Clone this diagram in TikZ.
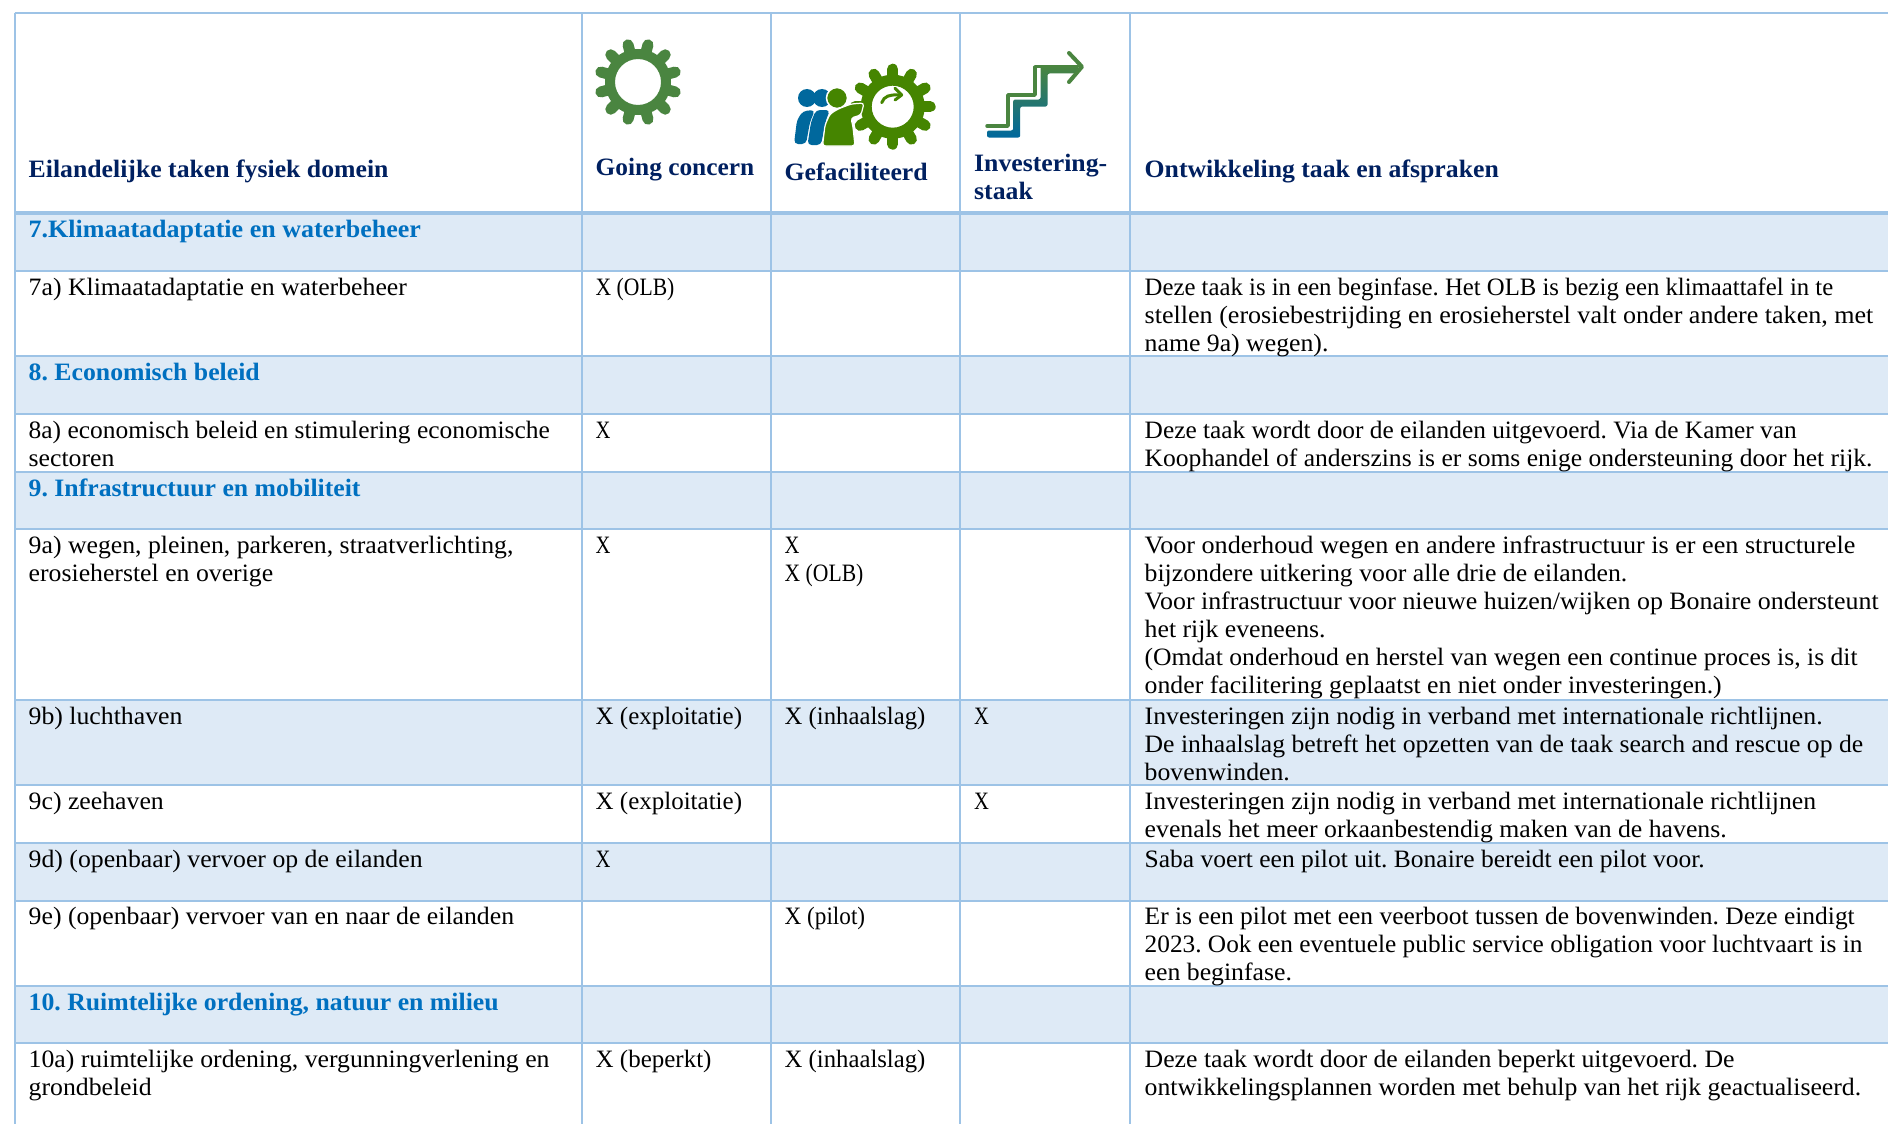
\documentclass[tikz,border=0pt]{standalone}
\usepackage{graphicx}
\usepackage{fontspec}
\setmainfont[FakeStretch=1.03]{Liberation Serif}
\definecolor{gridblue}{HTML}{9DC3E6}
\definecolor{rowshade}{HTML}{DEEAF6}
\definecolor{navy}{HTML}{002060}
\definecolor{sect}{HTML}{0070C0}
\definecolor{gearA}{HTML}{4A8540}
\definecolor{gearB}{HTML}{458500}
\definecolor{pblue}{HTML}{00689D}
\definecolor{teal}{HTML}{2A7A78}
\newcommand{\bodyfont}{\frenchspacing\fontsize{25}{28}\selectfont}
\newcommand{\st}{\rule{0pt}{20pt}}
\newcommand{\sx}[2]{\scalebox{#1}[1]{#2}}
\newcommand{\gearicon}[7]{% x y ringr holer toothr color offset
  \fill[#6,even odd rule] (#1,#2) circle[radius=#3] (#1,#2) circle[radius=#4];
  \foreach \a in {0,30,...,330}{
    \draw[#6,line width=11pt,line cap=round] ({#1+(#3-3)*cos(\a+#7)},{#2+(#3-3)*sin(\a+#7)}) -- ({#1+(#5-4.5)*cos(\a+#7)},{#2+(#5-4.5)*sin(\a+#7)});
  }}
\tikzset{
  x=1pt,y=-1pt,
  gridline/.style={gridblue,line width=2pt},
  cell/.style={anchor=north west,inner sep=0pt,align=left,font=\bodyfont,text=black},
  headcell/.style={cell,font=\bodyfont\bfseries,text=navy},
  sectcell/.style={cell,font=\bodyfont\bfseries,text=sect},
}
\begin{document}
\begin{tikzpicture}
\useasboundingbox (0,0) rectangle (1888,1124);
\fill[white] (0,0) rectangle (1888,1124);
% shading
\foreach \a/\b in {213/271,356/414,472/529,700/785,843/900.6,986/1043}
  \fill[rowshade] (14.5,\a) rectangle (1888,\b);
% grid
\foreach \y in {13,271,356,414,472,529,700,785,843,900.6,986,1043}
  \draw[gridline] (14.5,\y) -- (1888,\y);
\draw[gridblue,line width=4.5pt] (14.5,213) -- (1888,213);
\foreach \x in {14.5,581.5,770.6,959.6,1129.5}
  \draw[gridline] (\x,13) -- (\x,1124);
% icons
\gearicon{638}{82}{33}{23}{43}{gearA}{15}
\gearicon{892.7}{106.7}{32}{21}{42}{gearB}{0}
\draw[gearB,line width=3pt,line cap=round] (881.7,102.7) .. controls (884,96) and (890,94.5) .. (898,95);
\draw[gearB,line width=3pt,line cap=round,line join=round] (895,88.3) -- (901.7,95) -- (895,100);
% people
\fill[pblue] (807,98) circle[radius=9] (822,98) circle[radius=9];
\fill[pblue,rounded corners=4pt] (794,144) -- (797,120) -- (803,111) -- (815,110) -- (810,122) -- (806,144) -- cycle;
\fill[pblue,rounded corners=4pt] (807.5,145) -- (811,122) -- (816,110) -- (830,110) -- (826,120) -- (821,145) -- cycle;
\filldraw[gearB,draw=white,line width=1.5pt] (837,98) circle[radius=10.5];
\filldraw[gearB,draw=white,line width=1.2pt,rounded corners=3pt] (822.5,146) -- (825,125) -- (830,114) -- (838,109) -- (851,104) -- (864,103) -- (861,115) -- (851,118) -- (853,127) -- (855,146) -- cycle;
% stairs
\draw[gearA,line width=3.5pt,line join=round,line cap=round] (987,126) -- (1008,126) -- (1008,95) -- (1035,95) -- (1035,66.7) -- (1078,66.7);
\shade[top color=gearA,middle color=teal,bottom color=pblue,rounded corners=2pt]
  (987,130.5) -- (1013.2,130.5) -- (1013.2,99.5) -- (1040.5,99.5) -- (1040.5,66.5) -- (1078,66.5) -- (1078,73.5) -- (1047.5,73.5) -- (1047.5,106.5) -- (1020.2,106.5) -- (1020.2,137.5) -- (987,137.5) -- cycle;
\draw[gearA,line width=4pt,line cap=round,line join=round] (1069,53) -- (1082,66.7) -- (1069,82);
% header
\node[headcell] (h1) at (28.5,157) {\st Eilandelijke taken fysiek domein};
\node[headcell] (h2) at (595.5,155) {\st\sx{.985}{Going concern}};
\node[headcell] (h3) at (784.5,160) {\st Gefaciliteerd};
\node[headcell] (h4) at (974,151) {\st Investering-\\staak};
\node[headcell] (h5) at (1144.5,157) {\st Ontwikkeling taak en afspraken};
% sections
\node[sectcell] (s7) at (28.5,217) {\st\sx{1.01}{7.Klimaatadaptatie en waterbeheer}};
\node[sectcell] (s8) at (28.5,360) {\st 8. Economisch beleid};
\node[sectcell] (s9) at (28.5,476) {\st 9. Infrastructuur en mobiliteit};
\node[sectcell] (s10) at (28.5,990) {\st 10. Ruimtelijke ordening, natuur en milieu};
% 7a
\node[cell] (a1) at (28.5,275) {\st 7a) Klimaatadaptatie en waterbeheer};
\node[cell] (a2) at (595.5,275) {\st\sx{.84}{X (OLB)}};
\node[cell] (a5) at (1144.5,275) {\st\sx{.961}{Deze taak is in een beginfase. Het OLB is bezig een klimaattafel in te}\\\sx{1.012}{stellen (erosiebestrijding en erosieherstel valt onder andere taken, met}\\name 9a) wegen).};
% 8a
\node[cell] (b1) at (28.5,418) {\st\sx{.989}{8a) economisch beleid en stimulering economische}\\sectoren};
\node[cell] (b2) at (595.5,418) {\st\sx{.8}{X}};
\node[cell] (b5) at (1144.5,418) {\st\sx{.984}{Deze taak wordt door de eilanden uitgevoerd. Via de Kamer van}\\\sx{.993}{Koophandel of anderszins is er soms enige ondersteuning door het rijk.}};
% 9a
\node[cell] (c1) at (28.5,533) {\st 9a) wegen, pleinen, parkeren, straatverlichting,\\erosieherstel en overige};
\node[cell] (c2) at (595.5,533) {\st\sx{.8}{X}};
\node[cell] (c3) at (784.5,533) {\st\sx{.8}{X}\\\sx{.84}{X (OLB)}};
\node[cell] (c5) at (1144.5,533) {\st\sx{1.016}{Voor onderhoud wegen en andere infrastructuur is er een structurele}\\bijzondere uitkering voor alle drie de eilanden.\\\sx{1.006}{Voor infrastructuur voor nieuwe huizen/wijken op Bonaire ondersteunt}\\het rijk eveneens.\\\sx{.995}{(Omdat onderhoud en herstel van wegen een continue proces is, is dit}\\onder facilitering geplaatst en niet onder investeringen.)};
% 9b
\node[cell] (d1) at (28.5,704) {\st 9b) luchthaven};
\node[cell] (d2) at (595.5,704) {\st\sx{.97}{X (exploitatie)}};
\node[cell] (d3) at (784.5,704) {\st\sx{.96}{X (inhaalslag)}};
\node[cell] (d4) at (974,704) {\st\sx{.8}{X}};
\node[cell] (d5) at (1144.5,704) {\st Investeringen zijn nodig in verband met internationale richtlijnen.\\\sx{.997}{De inhaalslag betreft het opzetten van de taak search and rescue op de}\\bovenwinden.};
% 9c
\node[cell] (e1) at (28.5,789) {\st 9c) zeehaven};
\node[cell] (e2) at (595.5,789) {\st\sx{.97}{X (exploitatie)}};
\node[cell] (e4) at (974,789) {\st\sx{.8}{X}};
\node[cell] (e5) at (1144.5,789) {\st Investeringen zijn nodig in verband met internationale richtlijnen\\evenals het meer orkaanbestendig maken van de havens.};
% 9d
\node[cell] (f1) at (28.5,847) {\st 9d) (openbaar) vervoer op de eilanden};
\node[cell] (f2) at (595.5,847) {\st\sx{.8}{X}};
\node[cell] (f5) at (1144.5,847) {\st\sx{.99}{Saba voert een pilot uit. Bonaire bereidt een pilot voor.}};
% 9e
\node[cell] (g1) at (28.5,904) {\st 9e) (openbaar) vervoer van en naar de eilanden};
\node[cell] (g3) at (784.5,904) {\st\sx{.9}{X (pilot)}};
\node[cell] (g5) at (1144.5,904) {\st\sx{.989}{Er is een pilot met een veerboot tussen de bovenwinden. Deze eindigt}\\\sx{.983}{2023. Ook een eventuele public service obligation voor luchtvaart is in}\\een beginfase.};
% 10a
\node[cell] (i1) at (28.5,1047) {\st 10a) ruimtelijke ordening, vergunningverlening en\\grondbeleid};
\node[cell] (i2) at (595.5,1047) {\st\sx{.97}{X (beperkt)}};
\node[cell] (i3) at (784.5,1047) {\st\sx{.96}{X (inhaalslag)}};
\node[cell] (i5) at (1144.5,1047) {\st Deze taak wordt door de eilanden beperkt uitgevoerd. De\\ontwikkelingsplannen worden met behulp van het rijk geactualiseerd.};
\end{tikzpicture}
\end{document}
